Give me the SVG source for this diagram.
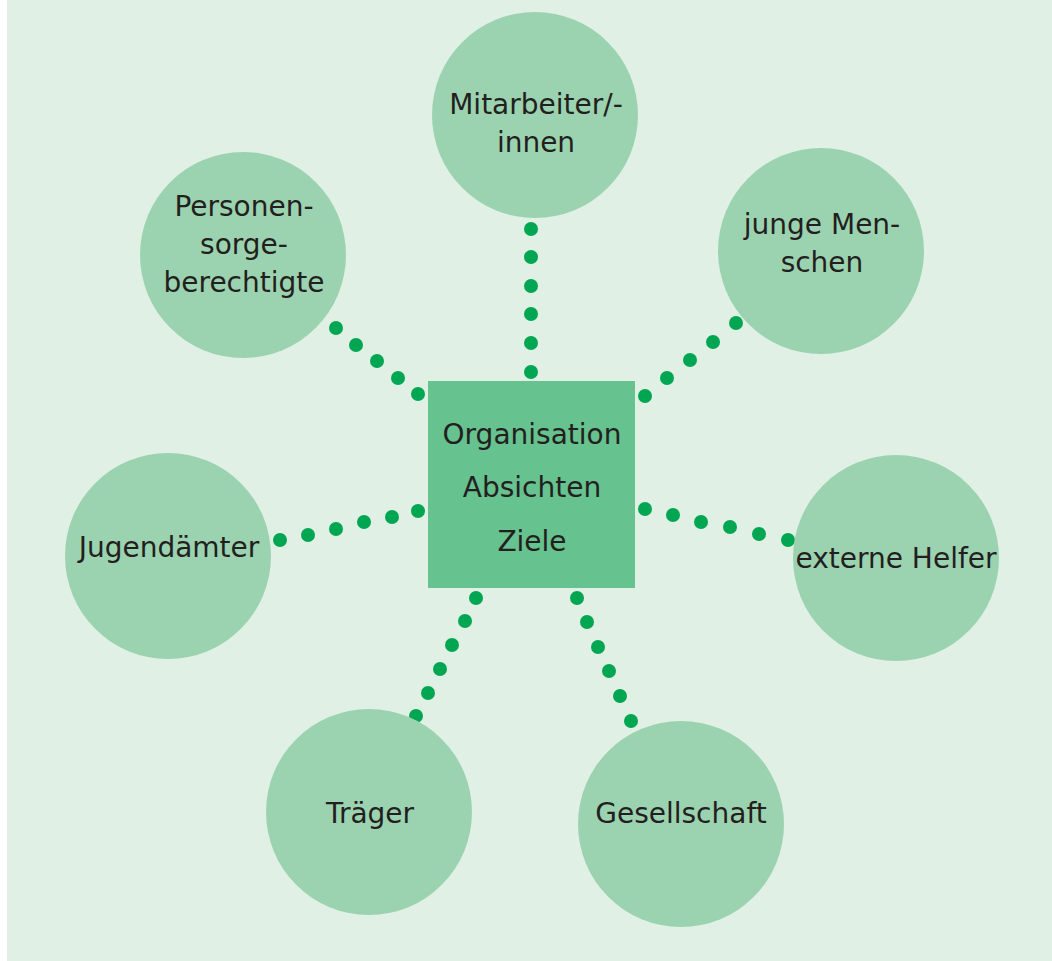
<svg xmlns="http://www.w3.org/2000/svg" width="1052" height="961" viewBox="0 0 1052 961">
  <style>
    .bg { fill: #e1f0e5; }
    .circle { fill: #9bd3b0; }
    .core { fill: #66c28e; }
    .dot { fill: #00a651; }
    text { font-family: "DejaVu Sans", "Liberation Sans", sans-serif; font-size: 28px; fill: #231f20; text-anchor: middle; }
  </style>
  <rect class="bg" x="7" y="0" width="1045" height="961"/>

  <!-- dotted connectors -->
  <g id="connectors">
    <!-- to Mitarbeiter/-innen -->
    <circle class="dot" cx="531" cy="229" r="7"/>
    <circle class="dot" cx="531" cy="257" r="7"/>
    <circle class="dot" cx="531" cy="286" r="7"/>
    <circle class="dot" cx="531" cy="314" r="7"/>
    <circle class="dot" cx="531" cy="343" r="7"/>
    <circle class="dot" cx="531" cy="372" r="7"/>
    <!-- to Personensorgeberechtigte -->
    <circle class="dot" cx="336" cy="328" r="7"/>
    <circle class="dot" cx="356" cy="345" r="7"/>
    <circle class="dot" cx="377" cy="361" r="7"/>
    <circle class="dot" cx="398" cy="378" r="7"/>
    <circle class="dot" cx="418" cy="394" r="7"/>
    <!-- to junge Menschen -->
    <circle class="dot" cx="736" cy="323" r="7"/>
    <circle class="dot" cx="713" cy="342" r="7"/>
    <circle class="dot" cx="690" cy="360" r="7"/>
    <circle class="dot" cx="667" cy="378" r="7"/>
    <circle class="dot" cx="645" cy="396" r="7"/>
    <!-- to Jugendämter -->
    <circle class="dot" cx="280" cy="540" r="7"/>
    <circle class="dot" cx="308" cy="535" r="7"/>
    <circle class="dot" cx="336" cy="529" r="7"/>
    <circle class="dot" cx="364" cy="522" r="7"/>
    <circle class="dot" cx="392" cy="517" r="7"/>
    <circle class="dot" cx="418" cy="511" r="7"/>
    <!-- to externe Helfer -->
    <circle class="dot" cx="645" cy="509" r="7"/>
    <circle class="dot" cx="673" cy="515" r="7"/>
    <circle class="dot" cx="701" cy="522" r="7"/>
    <circle class="dot" cx="730" cy="527" r="7"/>
    <circle class="dot" cx="759" cy="534" r="7"/>
    <circle class="dot" cx="788" cy="540" r="7"/>
    <!-- to Träger -->
    <circle class="dot" cx="476" cy="598" r="7"/>
    <circle class="dot" cx="465" cy="621" r="7"/>
    <circle class="dot" cx="452" cy="645" r="7"/>
    <circle class="dot" cx="440" cy="669" r="7"/>
    <circle class="dot" cx="428" cy="693" r="7"/>
    <circle class="dot" cx="416" cy="716" r="7"/>
    <!-- to Gesellschaft -->
    <circle class="dot" cx="577" cy="598" r="7"/>
    <circle class="dot" cx="587" cy="622" r="7"/>
    <circle class="dot" cx="598" cy="647" r="7"/>
    <circle class="dot" cx="609" cy="671" r="7"/>
    <circle class="dot" cx="620" cy="696" r="7"/>
    <circle class="dot" cx="631" cy="721" r="7"/>
  </g>

  <g id="center">
    <rect class="core" x="428" y="381" width="207" height="207"/>
    <text x="532" y="444">Organisation</text>
    <text x="532" y="497">Absichten</text>
    <text x="532" y="551">Ziele</text>
  </g>

  <g id="mitarbeiter">
    <circle class="circle" cx="535" cy="115" r="103"/>
    <text x="536" y="114">Mitarbeiter/-</text>
    <text x="536" y="152">innen</text>
  </g>

  <g id="personensorge">
    <circle class="circle" cx="243" cy="255" r="103"/>
    <text x="244" y="216">Personen-</text>
    <text x="244" y="254">sorge-</text>
    <text x="244" y="292">berechtigte</text>
  </g>

  <g id="junge-menschen">
    <circle class="circle" cx="821" cy="251" r="103"/>
    <text x="822" y="234">junge Men-</text>
    <text x="822" y="272">schen</text>
  </g>

  <g id="jugendaemter">
    <circle class="circle" cx="168" cy="556" r="103"/>
    <text x="169" y="557">Jugendämter</text>
  </g>

  <g id="externe-helfer">
    <circle class="circle" cx="896" cy="558" r="103"/>
    <text x="896" y="568">externe Helfer</text>
  </g>

  <g id="traeger">
    <circle class="circle" cx="369" cy="812" r="103"/>
    <text x="370" y="823">Träger</text>
  </g>

  <g id="gesellschaft">
    <circle class="circle" cx="681" cy="824" r="103"/>
    <text x="681" y="823">Gesellschaft</text>
  </g>
</svg>
